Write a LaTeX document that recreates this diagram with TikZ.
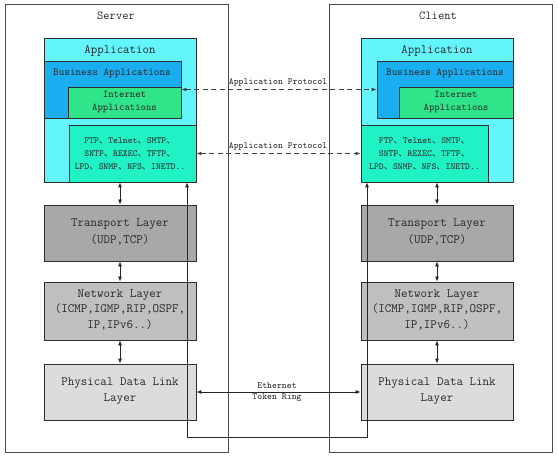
\documentclass[tikz,border=0pt]{standalone}
\usepackage{fontspec}
\newfontfamily\cjk{Noto Sans CJK SC}
\usetikzlibrary{arrows.meta}
\newcommand{\dn}{{\cjk 、}}
\newcommand{\tf}[2]{\fontsize{#1}{#2}\selectfont\ttfamily}
\definecolor{appc}{RGB}{100,244,252}
\definecolor{busc}{RGB}{26,174,240}
\definecolor{intc}{RGB}{48,228,138}
\definecolor{ftpc}{RGB}{32,242,198}
\definecolor{trc}{RGB}{168,168,168}
\definecolor{nwc}{RGB}{192,192,192}
\definecolor{phc}{RGB}{220,220,220}
\definecolor{edge}{RGB}{45,45,45}
\definecolor{txt}{RGB}{40,40,40}
\begin{document}
\begin{tikzpicture}[x=1bp,y=-1bp,
  outerbox/.style={draw=black!70, line width=0.7pt, inner sep=0pt, minimum width=223bp, minimum height=448bp},
  blk/.style={draw=edge, line width=0.8pt, inner sep=0pt},
  lbl/.style={inner sep=0pt, text=txt, align=center},
  tip/.style={-{Latex[length=5bp,width=4bp]}},
  dtip/.style={{Latex[length=5bp,width=4bp]}-{Latex[length=5bp,width=4bp]}},
  link/.style={draw=black!85, line width=0.8pt},
  dlink/.style={draw=black!75, line width=1.1pt, dash pattern=on 5bp off 3.5bp}]
\useasboundingbox (0,0) rectangle (558,458);
\fill[white] (0,0) rectangle (558,458);

% outer frames
\node[outerbox] (srv) at (116.5,228) {};
\node[outerbox] (cli) at (440.5,228) {};
\node[lbl, font=\tf{12.2}{14}] (srvt) at (116,16) {Server};
\node[lbl, font=\tf{12.2}{14}] (clit) at (438,16) {Client};

% ---------- server application stack
\node[blk, fill=appc, minimum width=152bp, minimum height=144bp] (appS) at (120,110) {};
\node[blk, fill=busc, minimum width=137bp, minimum height=57bp] (busS) at (112.5,89.5) {};
\node[blk, fill=intc, minimum width=113bp, minimum height=31bp] (intS) at (124.5,102.5) {};
\node[blk, fill=ftpc, minimum width=127bp, minimum height=57bp] (ftpS) at (132.5,153.5) {};
\node[lbl, font=\tf{12.6}{15}] (appSt) at (120,51) {Application};
\node[lbl, font=\tf{10.7}{13}] (busSt) at (112,73) {Business Applications};
\node[lbl, font=\tf{10.3}{13}] (intSt) at (124.5,102) {Internet\\Applications};
\node[lbl, font=\tf{9.3}{13}] (ftpSt) at (130,153.5) {FTP\dn Telnet\dn SMTP\dn\\SNTP\dn REXEC\dn TFTP\dn\\LPD\dn SNMP\dn NFS\dn INETD..};

% ---------- client application stack
\node[blk, fill=appc, minimum width=152bp, minimum height=144bp] (appC) at (437,110) {};
\node[blk, fill=busc, minimum width=136bp, minimum height=57bp] (busC) at (445,89.5) {};
\node[blk, fill=intc, minimum width=114bp, minimum height=31bp] (intC) at (456,102.5) {};
\node[blk, fill=ftpc, minimum width=127bp, minimum height=57bp] (ftpC) at (424.5,153.5) {};
\node[lbl, font=\tf{12.6}{15}] (appCt) at (437,51) {Application};
\node[lbl, font=\tf{10.7}{13}] (busCt) at (445,73) {Business Applications};
\node[lbl, font=\tf{10.3}{13}] (intCt) at (456,102) {Internet\\Applications};
\node[lbl, font=\tf{9.3}{13}] (ftpCt) at (424.5,153.5) {FTP\dn Telnet\dn SMTP\dn\\SNTP\dn REXEC\dn TFTP\dn\\LPD\dn SNMP\dn NFS\dn INETD..};

% ---------- lower layers
\foreach \s/\x in {S/120,C/437}{
  \node[blk, fill=trc, minimum width=152bp, minimum height=56bp] (tr\s) at (\x,233) {};
  \node[blk, fill=nwc, minimum width=152bp, minimum height=58bp] (nw\s) at (\x,311) {};
  \node[blk, fill=phc, minimum width=152bp, minimum height=56bp] (ph\s) at (\x,392) {};
  \node[lbl, font=\tf{12.7}{16.5}] (tr\s t) at (\x,232) {Transport Layer\\(UDP,TCP)};
  \node[lbl, font=\tf{12.7}{15.5}] (nw\s t) at (\x,310) {Network Layer\\(ICMP,IGMP,RIP,OSPF,\\IP,IPv6..)};
  \node[lbl, font=\tf{12.7}{16}] (ph\s t) at (\x,391) {Physical Data Link\\Layer};
  \draw[link, dtip] (app\s.south) -- (tr\s.north);
  \draw[link, dtip] (tr\s.south) -- (nw\s.north);
  \draw[link, dtip] (nw\s.south) -- (ph\s.north);
}

% ---------- peer protocols
\draw[dlink, dtip] (busS.east) -- (busC.west);
\draw[dlink, dtip] (ftpS.east) -- (ftpC.west);
\draw[link, dtip] (phS.east) -- (phC.west);
\node[lbl, font=\tf{9.4}{11}] (ap1) at (278,83) {Application Protocol};
\node[lbl, font=\tf{9.4}{11}] (ap2) at (278,147) {Application Protocol};
\node[lbl, font=\tf{9.4}{11.5}] (eth) at (277,392) {Ethernet\\Token Ring};

% ---------- long loop connector
\coordinate (lowL) at (187,437);
\coordinate (lowR) at (367,437);
\draw[link, dtip] (ftpS.south -| lowL) -- (lowL) -- (lowR) -- (ftpC.south -| lowR);
\end{tikzpicture}
\end{document}
